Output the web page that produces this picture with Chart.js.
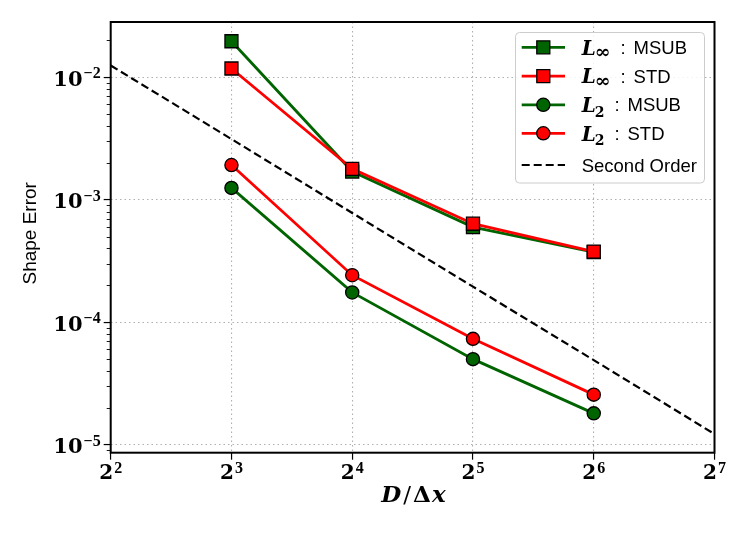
<!DOCTYPE html>
<html>
<head>
<meta charset="utf-8">
<script src="https://cdn.jsdelivr.net/npm/chart.js@4.4.0/dist/chart.umd.min.js"></script>
<style>
  html, body { margin: 0; padding: 0; background: #fff; }
  #wrap { width: 747px; height: 534px; position: relative; }
</style>
</head>
<body>
<div id="wrap"><canvas id="grafico"></canvas></div>
<script>
// ==========================================
// datos
// ==========================================
const resoluciones = [8, 16, 32, 64];
const linfMsub = [1.97e-2, 1.70e-3, 5.98e-4, 3.74e-4];
const linfStd  = [1.18e-2, 1.79e-3, 6.37e-4, 3.77e-4];
const l2Msub   = [1.25e-3, 1.75e-4, 4.99e-5, 1.80e-5];
const l2Std    = [1.92e-3, 2.42e-4, 7.31e-5, 2.56e-5];

const ordenX = [4, 8, 16, 32, 64, 128];
const ordenY = [1.25e-2, 3.13e-3, 7.8e-4, 1.95e-4, 4.9e-5, 1.22e-5];

const xTicks = [4, 8, 16, 32, 64, 128];
const xTickExp = ["2", "3", "4", "5", "6", "7"];
const yTicks = [1e-5, 1e-4, 1e-3, 1e-2];
const yTickExp = ["\u22125", "\u22124", "\u22123", "\u22122"];

const leyendaSub = ["\u221e", "\u221e", "2", "2"];
const leyendaTexto = ["MSUB", "STD", "MSUB", "STD"];

const verde = "#006400";
const rojo = "#ff0000";

function pares(xs, ys) {
    return xs.map((x, i) => ({ x: x, y: ys[i] }));
}

function serie(label, ys, color, estilo, radio, orden) {
    return {
        label: label,
        data: pares(resoluciones, ys),
        borderColor: color,
        backgroundColor: color,
        borderWidth: 2.8,
        pointStyle: estilo,
        pointRadius: radio,
        pointHoverRadius: radio,
        pointBackgroundColor: color,
        pointBorderColor: "#000",
        pointBorderWidth: 1.3,
        order: orden
    };
}

const conjuntos = [
    serie("L\u221e : MSUB", linfMsub, verde, "rect", 9.2, 5),
    serie("L\u221e : STD", linfStd, rojo, "rect", 9.2, 4),
    serie("L2 : MSUB", l2Msub, verde, "circle", 6.6, 3),
    serie("L2 : STD", l2Std, rojo, "circle", 6.6, 2),
    {
        label: "Second Order",
        data: pares(ordenX, ordenY),
        borderColor: "#000",
        borderWidth: 2.2,
        borderDash: [8, 4],
        pointRadius: 0,
        order: 1
    }
];

// dibuja trozos de texto seguidos con fuentes distintas
function trozos(ctx, partes, x, y) {
    partes.forEach(p => {
        ctx.font = p[1];
        ctx.fillText(p[0], x, y);
        x += ctx.measureText(p[0]).width + (p[2] || 0);
    });
}

function anchoTrozos(ctx, partes) {
    let w = 0;
    partes.forEach(p => {
        ctx.font = p[1];
        w += ctx.measureText(p[0]).width + (p[2] || 0);
    });
    return w;
}

// marco, ticks menores, etiquetas y leyenda
const decorado = {
    id: "decorado",
    afterDraw(chart) {
        const { ctx, chartArea: a, scales: { x, y } } = chart;
        ctx.save();

        // ticks menores del eje y
        ctx.strokeStyle = "#000";
        ctx.lineWidth = 0.9;
        for (let d = -6; d <= -1; d++) {
            for (let m = 2; m <= 9; m++) {
                const v = m * Math.pow(10, d);
                if (v < y.min || v > y.max) continue;
                const py = Math.round(y.getPixelForValue(v)) + 0.5;
                ctx.beginPath();
                ctx.moveTo(a.left - 4, py);
                ctx.lineTo(a.left, py);
                ctx.stroke();
            }
        }

        // marco
        ctx.lineWidth = 2;
        ctx.strokeRect(a.left, a.top, a.right - a.left, a.bottom - a.top);

        const fBase = "bold 21px 'DejaVu Serif'";
        const fSup = "bold 16px 'Liberation Serif'";
        ctx.fillStyle = "#000";
        ctx.textBaseline = "alphabetic";
        ctx.textAlign = "left";

        // etiquetas eje y
        yTicks.forEach((v, i) => {
            const py = y.getPixelForValue(v);
            ctx.font = fSup;
            const wSup = ctx.measureText(yTickExp[i]).width;
            ctx.font = fBase;
            const wBase = ctx.measureText("10").width;
            const x0 = a.left - 10 - wSup - 1 - wBase;
            ctx.fillText("10", x0, py + 8.6);
            ctx.font = fSup;
            ctx.fillText(yTickExp[i], x0 + wBase + 1, py + 1);
        });

        // etiquetas eje x
        xTicks.forEach((v, i) => {
            const px = x.getPixelForValue(v);
            ctx.font = fSup;
            const wSup = ctx.measureText(xTickExp[i]).width;
            ctx.font = "bold 20px 'DejaVu Serif'";
            const wBase = ctx.measureText("2").width;
            const x0 = px - (wBase + 1 + wSup) / 2;
            ctx.fillText("2", x0, a.bottom + 26);
            ctx.font = fSup;
            ctx.fillText(xTickExp[i], x0 + wBase + 1, a.bottom + 20.5);
        });

        // titulo eje x
        const titulo = [
            ["D", "bold italic 23px 'DejaVu Serif'", 2],
            ["/", "23px 'DejaVu Serif'", 2],
            ["\u0394", "bold 23px 'DejaVu Serif'", 1],
            ["x", "bold italic 23px 'DejaVu Serif'", 0]
        ];
        const wt = anchoTrozos(ctx, titulo);
        trozos(ctx, titulo, 413.5 - wt / 2, 502);

        // titulo eje y
        ctx.save();
        ctx.translate(31, 233.3);
        ctx.rotate(-Math.PI / 2);
        ctx.textAlign = "center";
        ctx.textBaseline = "middle";
        ctx.font = "19px 'Liberation Sans'";
        ctx.fillText("Shape Error", 0, 0);
        ctx.restore();

        // leyenda
        ctx.beginPath();
        ctx.roundRect(515.5, 32.5, 189, 150.5, 4);
        ctx.fillStyle = "rgba(255,255,255,0.85)";
        ctx.fill();
        ctx.strokeStyle = "#cccccc";
        ctx.lineWidth = 1;
        ctx.stroke();

        const filas = [47.3, 76.2, 104.8, 133.3, 165];
        chart.data.datasets.forEach((ds, i) => {
            const fy = filas[i];
            ctx.strokeStyle = ds.borderColor;
            ctx.lineWidth = ds.borderWidth;
            ctx.setLineDash(ds.borderDash || []);
            ctx.beginPath();
            ctx.moveTo(521.7, fy);
            ctx.lineTo(565, fy);
            ctx.stroke();
            ctx.setLineDash([]);
            if (ds.pointRadius > 0) {
                ctx.fillStyle = ds.pointBackgroundColor;
                ctx.strokeStyle = ds.pointBorderColor;
                ctx.lineWidth = ds.pointBorderWidth;
                Chart.helpers.drawPoint(ctx, {
                    pointStyle: ds.pointStyle,
                    radius: ds.pointRadius,
                    rotation: 0,
                    borderWidth: ds.pointBorderWidth
                }, 543.3, fy);
            }
            ctx.fillStyle = "#000";
            ctx.textAlign = "left";
            ctx.textBaseline = "alphabetic";
            let tx = 581.7;
            if (i < leyendaTexto.length) {
                ctx.font = "bold italic 20px 'DejaVu Serif'";
                ctx.fillText("L", tx, fy + 7.2);
                tx += ctx.measureText("L").width - 1;
                if (leyendaSub[i] === "\u221e") {
                    ctx.font = "bold 19px 'DejaVu Serif'";
                    ctx.fillText(leyendaSub[i], tx, fy + 10.4);
                } else {
                    ctx.font = "bold 14px 'DejaVu Serif'";
                    ctx.fillText(leyendaSub[i], tx, fy + 11.7);
                }
                tx += ctx.measureText(leyendaSub[i]).width + 10;
                ctx.font = "18.5px 'Liberation Sans'";
                ctx.fillText(":", tx, fy + 6.6);
                tx += 13;
                ctx.fillText(leyendaTexto[i], tx, fy + 6.6);
            } else {
                ctx.font = "18.5px 'Liberation Sans'";
                ctx.fillText(ds.label, tx, fy + 6.6);
            }
        });

        ctx.restore();
    }
};

const ejeComun = {
    type: "logarithmic",
    ticks: { display: false },
    grid: {
        color: "#b0b0b0",
        lineWidth: 1.1,
        drawTicks: true,
        tickLength: 7,
        tickColor: "#000",
        tickWidth: 1.2
    },
    border: { display: false, dash: [1.5, 3] }
};

new Chart(document.getElementById("grafico"), {
    type: "line",
    data: { datasets: conjuntos },
    options: {
        responsive: true,
        maintainAspectRatio: false,
        animation: false,
        events: [],
        layout: { padding: { left: 0, top: 22, right: 32.5, bottom: 0 } },
        elements: { line: { tension: 0 } },
        scales: {
            x: Object.assign({}, ejeComun, {
                position: "bottom",
                min: 4,
                max: 128,
                afterBuildTicks: s => { s.ticks = xTicks.map(v => ({ value: v })); },
                afterFit: s => { s.height = 81.3; }
            }),
            y: Object.assign({}, ejeComun, {
                position: "left",
                min: 8.59e-6,
                max: 0.0283,
                afterBuildTicks: s => { s.ticks = yTicks.map(v => ({ value: v })); },
                afterFit: s => { s.width = 110.7; }
            })
        },
        plugins: {
            legend: { display: false },
            tooltip: { enabled: false }
        }
    },
    plugins: [decorado]
});
</script>
</body>
</html>
